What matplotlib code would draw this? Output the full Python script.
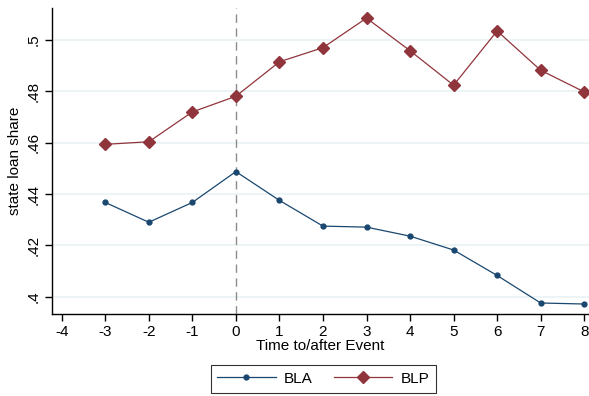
import numpy as np
import matplotlib.pyplot as plt

plt.rcParams['font.family'] = ['Liberation Sans', 'DejaVu Sans']
plt.rcParams['axes.unicode_minus'] = False

t = [-3, -2, -1, 0, 1, 2, 3, 4, 5, 6, 7, 8]
bla = [0.4367, 0.4290, 0.4367, 0.4487, 0.4375, 0.4275, 0.4271, 0.4236, 0.4182, 0.4083, 0.3976, 0.3972]
blp = [0.4593, 0.4603, 0.4719, 0.4780, 0.4914, 0.4969, 0.5084, 0.4957, 0.4823, 0.5034, 0.4881, 0.4797]
xticks = list(range(-4, 9))
yticks = [0.40, 0.42, 0.44, 0.46, 0.48, 0.50]
ylabels = ['.4', '.42', '.44', '.46', '.48', '.5']

navy = '#1a476f'
maroon = '#90353b'

fig = plt.figure(figsize=(5.89, 3.96), dpi=100)
ax = fig.add_axes([0.0878, 0.2063, 0.9122, 0.7727])

for y in yticks:
    ax.axhline(y, color='#eaf2f3', lw=1.2, zorder=0)
ax.axvline(0, color='#8c8c8c', lw=1, ls=(0, (6, 4)), zorder=1)

ax.plot(t, bla, color=navy, lw=0.9, marker='o', ms=3.5, label='BLA', zorder=3)
ax.plot(t, blp, color=maroon, lw=0.9, marker='D', ms=6.5, label='BLP', zorder=3)

ax.set_xlim(-4.23, 8.11)
ax.set_ylim(0.3932, 0.5122)
ax.set_xticks(xticks)
ax.set_yticks(yticks)
ax.set_yticklabels(ylabels, rotation=90, va='center')
ax.tick_params(axis='both', direction='out', length=5, width=1, labelsize=11, colors='black')
ax.tick_params(axis='y', pad=3)
ax.tick_params(axis='x', pad=3)

for s in ['top', 'right']:
    ax.spines[s].set_visible(False)
for s in ['left', 'bottom']:
    ax.spines[s].set_linewidth(1)

ax.set_xlabel('Time to/after Event', fontsize=11, labelpad=0)
ax.set_ylabel('state loan share', fontsize=11, labelpad=3)

leg = fig.legend(loc='center', bbox_to_anchor=(0.549, 0.0434), ncol=2, fontsize=11,
                 frameon=True, fancybox=False, edgecolor='black', handlelength=3.8,
                 handletextpad=0.55, columnspacing=1.4, borderpad=0.45)
leg.get_frame().set_linewidth(0.8)

fig.savefig('out.png', dpi=100)
